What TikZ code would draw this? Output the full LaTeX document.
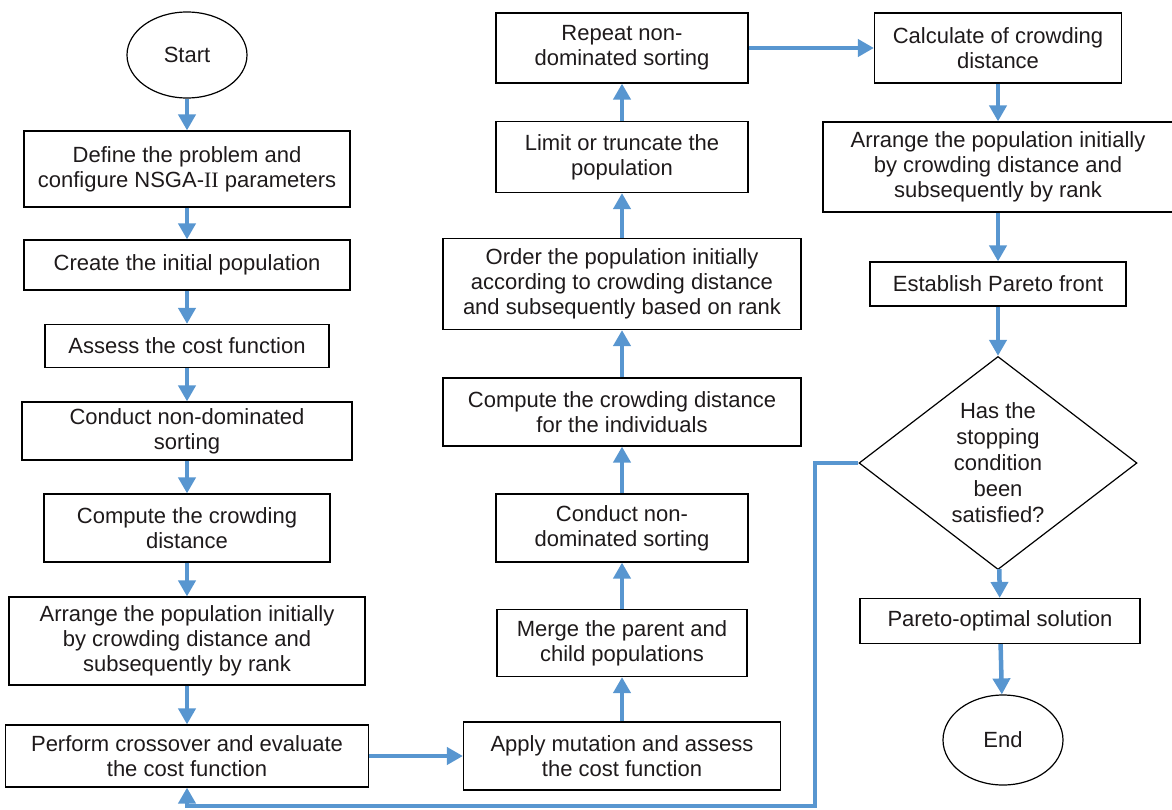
\documentclass[tikz,border=0pt]{standalone}
\usepackage{fontspec}
\setmainfont{Liberation Sans}
\newfontfamily\romanii{Liberation Serif}
\usetikzlibrary{arrows.meta,shapes.geometric}
\definecolor{flow}{RGB}{88,150,208}
\definecolor{txt}{RGB}{30,26,27}
\begin{document}
\begin{tikzpicture}[x=1pt,y=1pt,
  box/.style={draw=black, line width=1.2pt, rectangle, align=center, inner sep=0pt, text=txt, font=\fontsize{22}{25}\selectfont},
  term/.style={draw=black, line width=1.2pt, ellipse, inner sep=0pt, text=txt, font=\fontsize{22}{25}\selectfont, minimum width=120pt, minimum height=86pt},
  decide/.style={draw=black, line width=1.2pt, diamond, inner sep=0pt, align=center, text=txt, font=\fontsize{22}{26}\selectfont, minimum width=278pt, minimum height=195pt},
  flowarrow/.style={draw=flow, line width=4.5pt, line join=miter, -{Triangle[length=16pt,width=17pt]}}
]
\useasboundingbox (0,0) rectangle (1172,-809);
% column 1
\node[term] (start) at (187,-55) {Start};
\node[box, minimum width=326pt, minimum height=76pt] (define) at (187,-169) {Define the problem and\\configure NSGA-{\romanii II} parameters};
\node[box, minimum width=326pt, minimum height=50pt] (create) at (187,-265) {Create the initial population};
\node[box, minimum width=284pt, minimum height=43pt] (assess) at (187,-346) {Assess the cost function};
\node[box, minimum width=330pt, minimum height=58pt] (cond1) at (187,-431) {Conduct non-dominated\\sorting};
\node[box, minimum width=286pt, minimum height=68pt] (comp1) at (187,-528) {Compute the crowding\\distance};
\node[box, minimum width=356pt, minimum height=88pt] (arr1) at (187,-641) {Arrange the population initially\\by crowding distance and\\subsequently by rank};
\node[box, minimum width=363pt, minimum height=62pt] (cross) at (187,-756) {Perform crossover and evaluate\\the cost function};
% column 2
\node[box, minimum width=317pt, minimum height=68pt] (mut) at (622,-756) {Apply mutation and assess\\the cost function};
\node[box, minimum width=250pt, minimum height=67pt] (merge) at (622,-643) {Merge the parent and\\child populations};
\node[box, minimum width=252pt, minimum height=68pt] (cond2) at (622,-528) {Conduct non-\\dominated sorting};
\node[box, minimum width=358pt, minimum height=68pt] (comp2) at (622,-412) {Compute the crowding distance\\for the individuals};
\node[box, minimum width=358pt, minimum height=91pt] (order) at (622,-284) {Order the population initially\\according to crowding distance\\and subsequently based on rank};
\node[box, minimum width=252pt, minimum height=71pt] (limit) at (622,-157) {Limit or truncate the\\population};
\node[box, minimum width=252pt, minimum height=70pt] (repeat) at (622,-48) {Repeat non-\\dominated sorting};
% column 3
\node[box, minimum width=247pt, minimum height=70pt] (calc) at (998,-48) {Calculate of crowding\\distance};
\node[box, minimum width=350pt, minimum height=90pt] (arr2) at (998,-167) {Arrange the population initially\\by crowding distance and\\subsequently by rank};
\node[box, minimum width=256pt, minimum height=44pt] (pareto) at (998,-284) {Establish Pareto front};
\node[decide] (dia) at (998,-463) {Has the\\stopping\\condition\\been\\satisfied?};
\node[box, minimum width=280pt, minimum height=45pt] (sol) at (1000,-621) {Pareto-optimal solution};
\node[term, minimum height=90pt] (fin) at (1003,-740) {End};
% connectors
\draw[flowarrow] (start) -- (define);
\draw[flowarrow] (define) -- (create);
\draw[flowarrow] (create) -- (assess);
\draw[flowarrow] (assess) -- (cond1);
\draw[flowarrow] (cond1) -- (comp1);
\draw[flowarrow] (comp1) -- (arr1);
\draw[flowarrow] (arr1) -- (cross);
\draw[flowarrow] (cross) -- (mut);
\draw[flowarrow] (mut) -- (merge);
\draw[flowarrow] (merge) -- (cond2);
\draw[flowarrow] (cond2) -- (comp2);
\draw[flowarrow] (comp2) -- (order);
\draw[flowarrow] (order) -- (limit);
\draw[flowarrow] (limit) -- (repeat);
\draw[flowarrow] (repeat) -- (calc);
\draw[flowarrow] (calc) -- (arr2);
\draw[flowarrow] (arr2) -- (pareto);
\draw[flowarrow] (pareto) -- (dia);
\draw[flowarrow] (dia) -- (sol);
\draw[flowarrow] (sol) -- (fin);
\coordinate (loopA) at (815,-806);
\coordinate (loopB) at (187,-806);
\draw[flowarrow] (dia.west) -| (loopA) -- (loopB) -- (cross.south);
\end{tikzpicture}
\end{document}
